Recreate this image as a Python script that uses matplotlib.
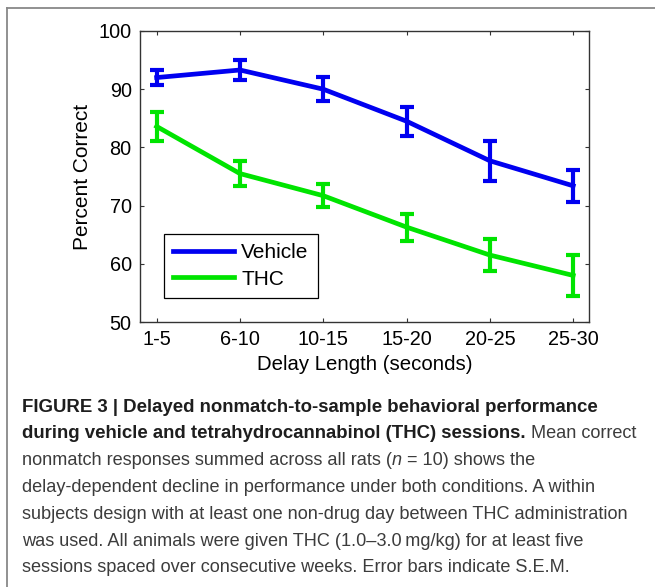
import matplotlib
matplotlib.use('Agg')
import matplotlib.pyplot as plt
from matplotlib.lines import Line2D

plt.rcParams['font.family'] = ['Liberation Sans', 'DejaVu Sans']

# delay bins and mean percent correct (+/- SEM)
delays = ['1-5', '6-10', '10-15', '15-20', '20-25', '25-30']
vehicle = [92.0, 93.3, 90.0, 84.5, 77.7, 73.4]
vehicle_sem = [1.3, 1.7, 2.1, 2.5, 3.4, 2.7]
thc = [83.6, 75.5, 71.7, 66.3, 61.5, 58.0]
thc_sem = [2.5, 2.2, 2.0, 2.3, 2.7, 3.5]

blue = '#0000f0'
green = '#00e400'

W, H = 655, 587
fig = plt.figure(figsize=(W / 100, H / 100), dpi=100)

ax = fig.add_axes([140 / W, 1 - 322 / H, 449 / W, 291 / H])
x = list(range(1, len(delays) + 1))

ax.errorbar(x, vehicle, yerr=vehicle_sem, color=blue, lw=3.4,
            elinewidth=3, capsize=5, capthick=3)
ax.errorbar(x, thc, yerr=thc_sem, color=green, lw=3.4,
            elinewidth=3, capsize=5, capthick=3)

ax.set_xlim(0.8, 6.19)
ax.set_ylim(50, 100)
ax.set_xticks(x)
ax.set_xticklabels(delays)
ax.set_yticks([50, 60, 70, 80, 90, 100])
ax.tick_params(direction='in', length=3, width=0.8, top=True, right=True,
               labelsize=14.3, colors='#333333', labelcolor='black', pad=6)
for s in ax.spines.values():
    s.set_color('#333333')
    s.set_linewidth(1.0)

ax.set_xlabel('Delay Length (seconds)', fontsize=14.7, va='center')
ax.xaxis.set_label_coords(0.5, (322 - 365) / 291)
ax.set_ylabel('Percent Correct', fontsize=15, va='center')
ax.yaxis.set_label_coords((82 - 140) / 449, 0.5)

handles = [Line2D([], [], color=blue, lw=3.4),
           Line2D([], [], color=green, lw=3.4)]
leg = ax.legend(handles, ['Vehicle', 'THC'], loc='lower left',
                bbox_to_anchor=(24 / 449, 24 / 291),
                fontsize=15, handlelength=2.9, handletextpad=0.35,
                labelspacing=0.35, borderpad=0.45, borderaxespad=0,
                fancybox=False, framealpha=1, edgecolor='black')
leg.get_frame().set_linewidth(0.9)

# partial border round the figure panel
fig.add_artist(Line2D([7 / W, 1], [1 - 8 / H, 1 - 8 / H], color='#888888', lw=1.3))
fig.add_artist(Line2D([7 / W, 7 / W], [0, 1 - 8 / H], color='#888888', lw=1.3))

# caption, drawn piece by piece so bold and normal runs share a line
caption = [
    [('FIGURE 3 | Delayed nonmatch-to-sample behavioral performance', 'bold', 'normal')],
    [('during vehicle and tetrahydrocannabinol (THC) sessions.', 'bold', 'normal'),
     (' Mean correct', 'normal', 'normal')],
    [('nonmatch responses summed across all rats (', 'normal', 'normal'),
     ('n', 'normal', 'italic'),
     (' = 10) shows the', 'normal', 'normal')],
    [('delay-dependent decline in performance under both conditions. A within', 'normal', 'normal')],
    [('subjects design with at least one non-drug day between THC administration', 'normal', 'normal')],
    [('was used. All animals were given THC (1.0\u20133.0\u2009mg/kg) for at least five', 'normal', 'normal')],
    [('sessions spaced over consecutive weeks. Error bars indicate S.E.M.', 'normal', 'normal')],
]

fig.canvas.draw()
renderer = fig.canvas.get_renderer()
y0, dy = 407, 26.8
for i, line in enumerate(caption):
    xp = 22
    for txt, weight, style in line:
        bold = weight == 'bold'
        t = fig.text(xp / W, 1 - (y0 + i * dy) / H, txt,
                     fontsize=13.4 if bold else 13.1,
                     fontweight=weight, fontstyle=style,
                     color='#1e1e1e' if bold else '#3c3c3c',
                     va='center', ha='left')
        xp += t.get_window_extent(renderer=renderer).width

fig.savefig('out.png', dpi=100)
